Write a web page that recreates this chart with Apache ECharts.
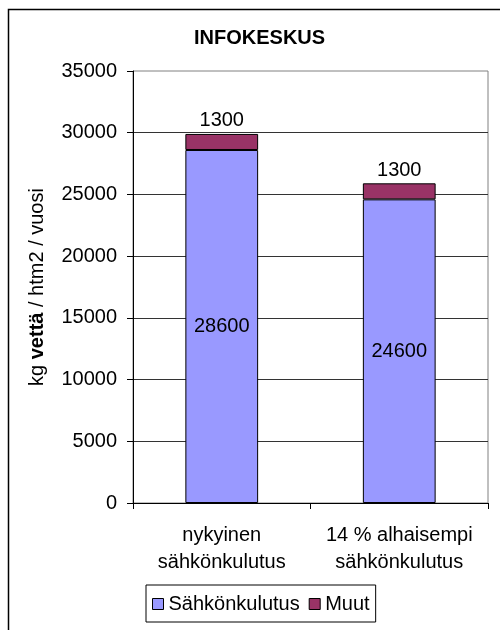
<!DOCTYPE html>
<html>
<head>
<meta charset="utf-8">
<script src="https://cdn.jsdelivr.net/npm/echarts@6/dist/echarts.min.js"></script>
<style>
  html, body { margin: 0; padding: 0; background: #fff; }
  #chart { width: 500px; height: 630px; }
</style>
</head>
<body>
<div id="chart"></div>
<script>
// Water consumption per heated m2 per year, split into electricity and other sources
const categories = ['nykyinen\nsähkönkulutus', '14 % alhaisempi\nsähkönkulutus'];
const electricity = [28600, 24600];   // Sähkönkulutus
const other = [1300, 1300];           // Muut
const yTicks = { min: 0, max: 35000, interval: 5000 };

const FONT = '"Liberation Sans", Arial, sans-serif';
const chart = echarts.init(document.getElementById('chart'), null, { renderer: 'canvas' });

chart.setOption({
  animation: false,
  backgroundColor: '#fff',
  textStyle: { fontFamily: FONT, color: '#000' },
  title: {
    text: 'INFOKESKUS',
    left: 189,
    top: 23,
    textStyle: { fontFamily: FONT, fontSize: 20, fontWeight: 'bold', color: '#000' }
  },
  graphic: [{
    type: 'rect',
    shape: { x: 8.5, y: 9.5, width: 700, height: 800 },
    style: { fill: null, stroke: '#000', lineWidth: 1.5 },
    silent: true
  }],
  legend: {
    left: 146,
    top: 585,
    padding: [9, 6, 8, 6],
    borderColor: '#000',
    borderWidth: 1,
    itemWidth: 11,
    itemHeight: 11,
    itemGap: 9,
    icon: 'rect',
    itemStyle: { borderColor: '#000', borderWidth: 1 },
    textStyle: { fontFamily: FONT, fontSize: 20, color: '#000' },
    data: ['Sähkönkulutus', 'Muut']
  },
  grid: {
    left: 133, right: 12, top: 71, bottom: 127,
    show: true, borderColor: '#808080', borderWidth: 1,
    containLabel: false
  },
  xAxis: {
    type: 'category',
    data: categories,
    axisLine: { lineStyle: { color: '#000', width: 1 } },
    axisTick: { show: true, alignWithLabel: false, length: 6, lineStyle: { color: '#000' } },
    axisLabel: {
      fontFamily: FONT, fontSize: 20, color: '#000',
      lineHeight: 27, margin: 19, interval: 0
    }
  },
  yAxis: {
    type: 'value',
    min: yTicks.min, max: yTicks.max, interval: yTicks.interval,
    name: '{n|kg }{b|vettä}{n| / htm2 / vuosi}',
    nameLocation: 'middle',
    nameRotate: 90,
    nameGap: 86,
    nameTextStyle: {
      rich: {
        n: { fontFamily: FONT, fontSize: 20, color: '#000' },
        b: { fontFamily: FONT, fontSize: 20, color: '#000', fontWeight: 'bold' }
      }
    },
    axisLine: { show: true, lineStyle: { color: '#000', width: 1 } },
    axisTick: { show: true, length: 6, lineStyle: { color: '#000' } },
    axisLabel: {
      fontFamily: FONT, fontSize: 20, color: '#000', margin: 16,
      formatter: (v) => String(v)
    },
    splitLine: { show: true, showMaxLine: false, lineStyle: { color: '#333', width: 1 } }
  },
  series: [
    {
      name: 'Sähkönkulutus',
      type: 'bar',
      stack: 'total',
      data: electricity,
      barWidth: '41%',
      itemStyle: { color: '#9999FF', borderColor: '#000', borderWidth: 1 },
      label: {
        show: true, position: 'inside',
        fontFamily: FONT, fontSize: 20, color: '#000'
      }
    },
    {
      name: 'Muut',
      type: 'bar',
      stack: 'total',
      data: other,
      barWidth: '41%',
      itemStyle: { color: '#993366', borderColor: '#000', borderWidth: 1 },
      label: {
        show: true, position: 'top', distance: 3,
        fontFamily: FONT, fontSize: 20, color: '#000'
      }
    }
  ]
});
</script>
</body>
</html>
